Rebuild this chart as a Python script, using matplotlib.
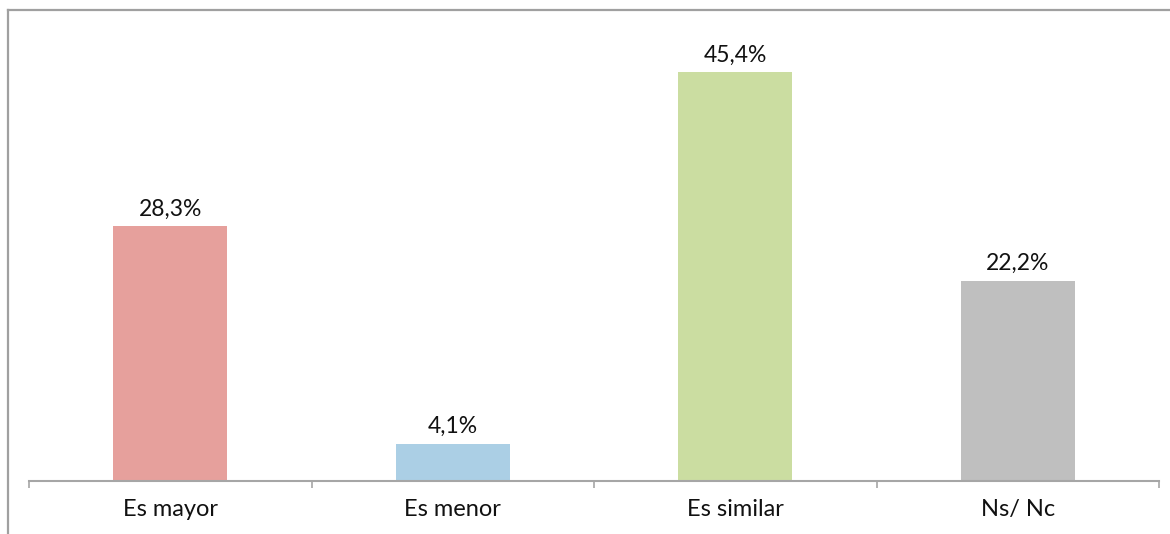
import numpy as np
import matplotlib.pyplot as plt
from matplotlib.lines import Line2D

# Datos del gráfico
categorias = ['Es mayor', 'Es menor', 'Es similar', 'Ns/ Nc']
valores = [28.3, 4.1, 45.4, 22.2]
etiquetas = ['28,3%', '4,1%', '45,4%', '22,2%']
colores = ['#E6A09C', '#ABCFE5', '#CBDDA1', '#BFBFBF']

plt.rcParams['font.family'] = ['Lato', 'DejaVu Sans']

fig = plt.figure(figsize=(11.7, 5.34), dpi=100)
W, H = 1170, 534
ax = fig.add_axes([29 / W, 1 - 481 / H, (1159 - 29) / W, (481 - 31) / H])

x = np.arange(len(categorias))
barras = ax.bar(x, valores, width=0.404, color=colores)

# Etiquetas de valor sobre cada barra
for b, txt in zip(barras, etiquetas):
    ax.annotate(txt, (b.get_x() + b.get_width() / 2, b.get_height()),
                xytext=(0, 5), textcoords='offset points',
                ha='center', va='bottom', fontsize=16.5, color='#111111')

ax.set_xlim(-0.5, len(categorias) - 0.5)
ax.set_ylim(0, 50)
ax.set_xticks(x)
ax.set_xticklabels(categorias, fontsize=17, color='#111111')
ax.tick_params(axis='x', which='major', length=0, pad=13)
ax.set_xticks(np.arange(-0.5, len(categorias)), minor=True)
ax.tick_params(axis='x', which='minor', length=5, width=1.2, color='#A6A6A6')
ax.set_yticks([])
for s in ['top', 'right', 'left']:
    ax.spines[s].set_visible(False)
ax.spines['bottom'].set_color('#A6A6A6')
ax.spines['bottom'].set_linewidth(1.5)

# Marco exterior (solo visibles lados superior e izquierdo)
fig.add_artist(Line2D([8 / W, 1], [1 - 10 / H, 1 - 10 / H], color='#A0A0A0', lw=1.6,
                      transform=fig.transFigure))
fig.add_artist(Line2D([8 / W, 8 / W], [0, 1 - 10 / H], color='#A0A0A0', lw=1.6,
                      transform=fig.transFigure))

fig.savefig('out.png', dpi=100)
